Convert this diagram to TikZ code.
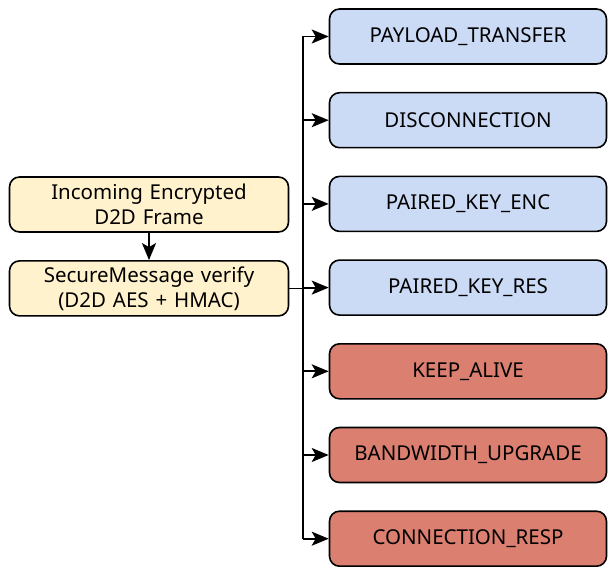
\documentclass[tikz,border=0pt]{standalone}
\usepackage{fontspec}
\setmainfont{Noto Sans}
\usepackage{xcolor}
\usetikzlibrary{shapes,arrows.meta,positioning}

\definecolor{inyellow}{RGB}{255,242,204}
\definecolor{okblue}{RGB}{203,218,245}
\definecolor{badred}{RGB}{219,127,112}

\begin{document}
\begin{tikzpicture}[x=1pt,y=1pt,node distance=27.1pt,
    box/.style={draw,line width=1.6pt,rounded corners=10pt,minimum height=55pt,
                align=center,font=\fontsize{20.5}{25}\selectfont},
    inbox/.style={box,fill=inyellow,minimum width=279pt,text width=270pt},
    msgok/.style={box,fill=okblue,minimum width=277pt},
    msgbad/.style={box,fill=badred,minimum width=277pt},
    >={Stealth[length=17pt,width=14pt,inset=4pt]},line width=1.8pt]
       \useasboundingbox (0,0) rectangle (608,-567);
       \node[inbox] (frame)   at (149,-204.5)        {Incoming Encrypted\\D2D Frame};
       \node[inbox] (verify)  [below=27.3pt of frame] {SecureMessage verify\\(D2D AES + HMAC)};
       \node[msgok] (payload) at (468,-36.5)         {PAYLOAD\_TRANSFER};
       \node[msgok] (disc)    [below=of payload]     {DISCONNECTION};
       \node[msgok] (keyenc)  [below=of disc]        {PAIRED\_KEY\_ENC};
       \node[msgok] (keyres)  [below=of keyenc]      {PAIRED\_KEY\_RES};
       \node[msgbad] (alive)  [below=of keyres]      {KEEP\_ALIVE};
       \node[msgbad] (bwup)   [below=of alive]       {BANDWIDTH\_UPGRADE};
       \node[msgbad] (connr)  [below=of bwup]        {CONNECTION\_RESP};
       \coordinate (trunk) at (303,0);
       \path[->] (frame) edge (verify);
       \draw (verify.east) -- (verify.east -| trunk);
       \draw (payload.west -| trunk) -- (connr.west -| trunk);
       \foreach \m in {payload,disc,keyenc,keyres,alive,bwup,connr}
         \draw[->] (\m.west -| trunk) -- (\m.west);
    \end{tikzpicture}
\end{document}
